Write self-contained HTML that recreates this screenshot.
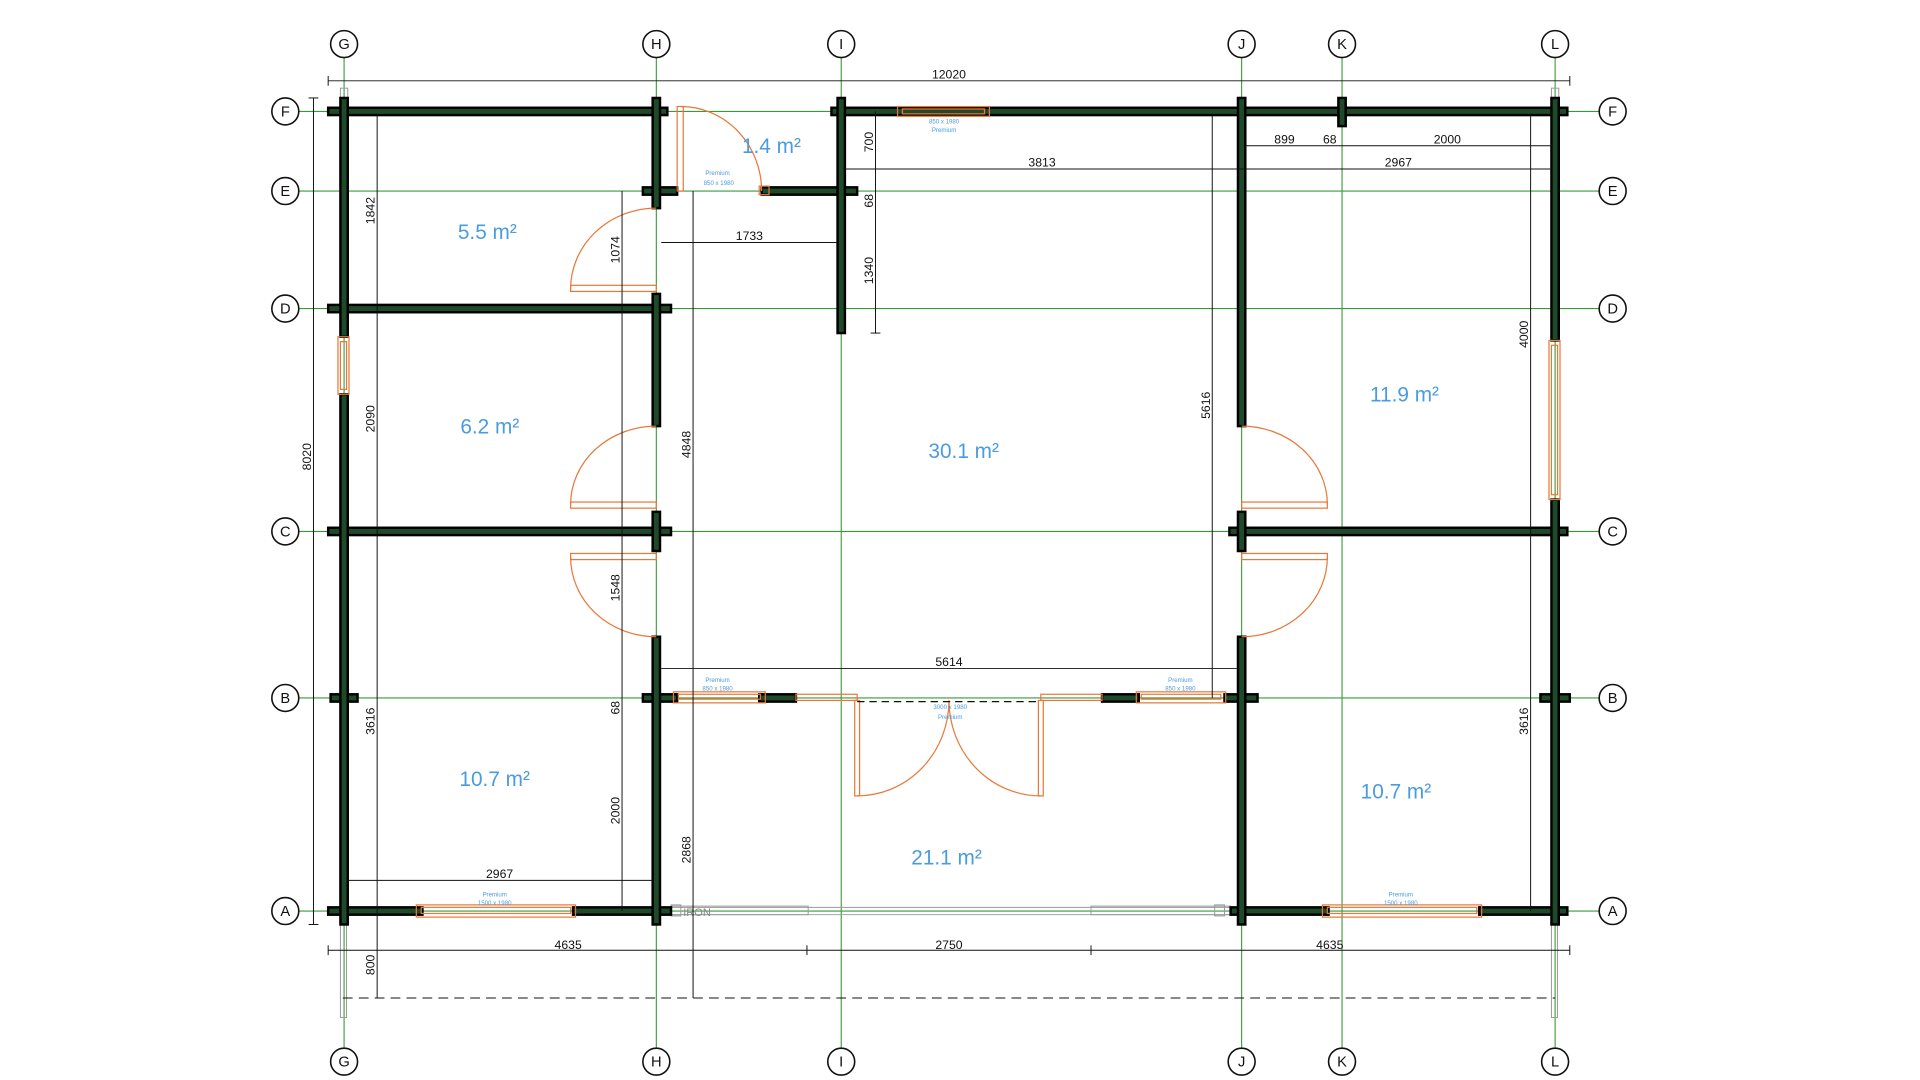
<!DOCTYPE html>
<html><head><meta charset="utf-8"><style>
html,body{margin:0;padding:0;background:#fff;width:1920px;height:1080px;overflow:hidden}
svg{display:block}
text{font-family:"Liberation Sans",sans-serif}
.d{font-size:10px;fill:#111}
.a{font-size:17px;fill:#4a9be0}
.s{font-size:5px;fill:#4a9be0}
.c{font-size:12px;fill:#111;text-anchor:middle}
</style></head><body>
<svg width="1920" height="1080" viewBox="0 0 1568 882" xmlns="http://www.w3.org/2000/svg">
<!-- grid lines -->
<g stroke="#3a9a3a" stroke-width="0.9">
<line x1="281" y1="47" x2="281" y2="856"/><line x1="536" y1="47" x2="536" y2="856"/><line x1="687" y1="47" x2="687" y2="856"/>
<line x1="1014" y1="47" x2="1014" y2="856"/><line x1="1096" y1="47" x2="1096" y2="856"/><line x1="1270" y1="47" x2="1270" y2="856"/>
<line x1="244" y1="91" x2="1306" y2="91"/><line x1="244" y1="156" x2="1306" y2="156"/><line x1="244" y1="252" x2="1306" y2="252"/>
<line x1="244" y1="434" x2="1306" y2="434"/><line x1="244" y1="570" x2="1306" y2="570"/><line x1="244" y1="744" x2="1306" y2="744"/>
</g>
<!-- grid circles -->
<g fill="#fff" stroke="#111" stroke-width="1.3">
<circle cx="281" cy="36" r="11"/><circle cx="536" cy="36" r="11"/><circle cx="687" cy="36" r="11"/><circle cx="1014" cy="36" r="11"/><circle cx="1096" cy="36" r="11"/><circle cx="1270" cy="36" r="11"/>
<circle cx="281" cy="867" r="11"/><circle cx="536" cy="867" r="11"/><circle cx="687" cy="867" r="11"/><circle cx="1014" cy="867" r="11"/><circle cx="1096" cy="867" r="11"/><circle cx="1270" cy="867" r="11"/>
<circle cx="233" cy="91" r="11"/><circle cx="233" cy="156" r="11"/><circle cx="233" cy="252" r="11"/><circle cx="233" cy="434" r="11"/><circle cx="233" cy="570" r="11"/><circle cx="233" cy="744" r="11"/>
<circle cx="1317" cy="91" r="11"/><circle cx="1317" cy="156" r="11"/><circle cx="1317" cy="252" r="11"/><circle cx="1317" cy="434" r="11"/><circle cx="1317" cy="570" r="11"/><circle cx="1317" cy="744" r="11"/>
</g>
<g class="c">
<text x="281" y="40">G</text><text x="536" y="40">H</text><text x="687" y="40">I</text><text x="1014" y="40">J</text><text x="1096" y="40">K</text><text x="1270" y="40">L</text>
<text x="281" y="871">G</text><text x="536" y="871">H</text><text x="687" y="871">I</text><text x="1014" y="871">J</text><text x="1096" y="871">K</text><text x="1270" y="871">L</text>
<text x="233" y="95">F</text><text x="233" y="160">E</text><text x="233" y="256">D</text><text x="233" y="438">C</text><text x="233" y="574">B</text><text x="233" y="748">A</text>
<text x="1317" y="95">F</text><text x="1317" y="160">E</text><text x="1317" y="256">D</text><text x="1317" y="438">C</text><text x="1317" y="574">B</text><text x="1317" y="748">A</text>
</g>
<!-- light posts -->
<g fill="none" stroke="#999" stroke-width="0.8">
<rect x="278" y="72" width="6" height="10"/><rect x="1267" y="72" width="6" height="10"/>
<rect x="278" y="755" width="5" height="76"/><rect x="1267" y="755" width="5" height="76"/>
<line x1="548" y1="741" x2="1005" y2="741"/><line x1="548" y1="747" x2="1005" y2="747"/>
<rect x="548" y="740" width="112" height="7"/><rect x="891" y="740" width="114" height="7"/>
<rect x="548" y="739" width="8" height="9"/><rect x="992" y="739" width="8" height="9"/>
</g>
<text x="558" y="748" font-size="9" fill="#888">IRON</text>
<!-- walls -->
<g fill="#1e4a2a" stroke="#000" stroke-width="2">
<rect x="268" y="88" width="277" height="6"/><rect x="679" y="88" width="601" height="6"/>
<rect x="525" y="153" width="28" height="6"/><rect x="622" y="153" width="78" height="6"/>
<rect x="268" y="249" width="280" height="6"/>
<rect x="268" y="431" width="280" height="6"/><rect x="1004" y="431" width="276" height="6"/>
<rect x="270" y="567" width="22" height="6"/><rect x="525" y="567" width="28" height="6"/><rect x="620" y="567" width="30" height="6"/><rect x="900" y="567" width="30" height="6"/><rect x="1000" y="567" width="27" height="6"/><rect x="1258" y="567" width="24" height="6"/>
<rect x="268" y="741" width="77" height="6"/><rect x="468" y="741" width="80" height="6"/><rect x="1005" y="741" width="80" height="6"/><rect x="1208" y="741" width="72" height="6"/>
<rect x="278" y="80" width="6" height="195"/><rect x="278" y="322" width="6" height="433"/>
<rect x="533" y="80" width="6" height="90"/><rect x="533" y="240" width="6" height="108"/><rect x="533" y="418" width="6" height="32"/><rect x="533" y="520" width="6" height="235"/>
<rect x="684" y="80" width="6" height="192"/>
<rect x="1011" y="80" width="6" height="268"/><rect x="1011" y="418" width="6" height="32"/><rect x="1011" y="520" width="6" height="235"/>
<rect x="1093" y="80" width="6" height="23"/>
<rect x="1267" y="80" width="6" height="198"/><rect x="1267" y="408" width="6" height="347"/>
</g>
<!-- doors/windows -->
<g fill="none" stroke="#e8783a" stroke-width="1">
<rect x="553" y="87" width="5" height="69"/><path d="M556 87 A66 69 0 0 1 622 156"/><rect x="620" y="152" width="8" height="7"/>
<rect x="466" y="233" width="70" height="5"/><path d="M536 170 A70 66 0 0 0 466 236"/>
<rect x="466" y="410" width="70" height="5"/><path d="M536 348 A70 64 0 0 0 466 412"/>
<rect x="466" y="452" width="70" height="5"/><path d="M466 455 A70 65 0 0 0 536 520"/>
<rect x="1014" y="410" width="70" height="5"/><path d="M1014 348 A70 64 0 0 1 1084 412"/>
<rect x="1014" y="452" width="70" height="5"/><path d="M1084 455 A70 65 0 0 1 1014 520"/>
<rect x="698" y="572" width="4" height="78"/><path d="M700 650 A75 78 0 0 0 775 572"/>
<rect x="848" y="572" width="4" height="78"/><path d="M850 650 A75 78 0 0 1 775 572"/>
<rect x="650" y="567" width="50" height="5"/><rect x="850" y="567" width="50" height="5"/>
<rect x="733" y="87" width="75" height="8"/><rect x="737" y="89" width="67" height="4"/>
<rect x="276" y="275" width="9" height="47"/><rect x="278" y="279" width="5" height="39"/>
<rect x="1265" y="278" width="9" height="130"/><rect x="1267" y="282" width="5" height="122"/>
<rect x="340" y="739" width="130" height="10"/><rect x="344" y="741" width="122" height="5"/>
<rect x="1080" y="739" width="130" height="10"/><rect x="1084" y="741" width="122" height="5"/>
<rect x="550" y="565" width="75" height="9"/><rect x="554" y="567" width="67" height="4"/>
<rect x="928" y="565" width="73" height="9"/><rect x="932" y="567" width="65" height="4"/>
</g>
<line x1="700" y1="573" x2="850" y2="573" stroke="#111" stroke-width="1" stroke-dasharray="6,4"/>
<!-- dimensions -->
<g stroke="#111" stroke-width="0.8" fill="none">
<line x1="268" y1="66" x2="1282" y2="66"/><line x1="268" y1="62" x2="268" y2="70"/><line x1="1282" y1="62" x2="1282" y2="70"/>
<line x1="268" y1="776" x2="1282" y2="776"/><line x1="268" y1="772" x2="268" y2="780"/><line x1="659" y1="772" x2="659" y2="780"/><line x1="891" y1="772" x2="891" y2="780"/><line x1="1282" y1="772" x2="1282" y2="780"/>
<line x1="280" y1="815" x2="1270" y2="815" stroke-dasharray="8,5"/>
<line x1="256" y1="80" x2="256" y2="755"/><line x1="252" y1="80" x2="260" y2="80"/><line x1="252" y1="755" x2="260" y2="755"/>
<line x1="308" y1="94" x2="308" y2="815"/>
<line x1="566" y1="156" x2="566" y2="815"/>
<line x1="508" y1="156" x2="508" y2="744"/>
<line x1="715" y1="91" x2="715" y2="272"/><line x1="711" y1="272" x2="719" y2="272"/>
<line x1="540" y1="198" x2="684" y2="198"/>
<line x1="690" y1="138" x2="1268" y2="138"/>
<line x1="1016" y1="119" x2="1268" y2="119"/>
<line x1="990" y1="94" x2="990" y2="570"/>
<line x1="540" y1="546" x2="1010" y2="546"/>
<line x1="1250" y1="94" x2="1250" y2="744"/>
<line x1="283" y1="719" x2="532" y2="719"/>
</g>
<g class="d">
<text x="775" y="64" text-anchor="middle">12020</text>
<text x="464" y="775" text-anchor="middle">4635</text><text x="775" y="775" text-anchor="middle">2750</text><text x="1086" y="775" text-anchor="middle">4635</text>
<text x="612" y="196" text-anchor="middle">1733</text><text x="851" y="136" text-anchor="middle">3813</text>
<text x="1049" y="117" text-anchor="middle">899</text><text x="1086" y="117" text-anchor="middle">68</text><text x="1182" y="117" text-anchor="middle">2000</text><text x="1142" y="136" text-anchor="middle">2967</text>
<text x="775" y="544" text-anchor="middle">5614</text><text x="408" y="717" text-anchor="middle">2967</text>
<text transform="translate(254,373) rotate(-90)" text-anchor="middle">8020</text>
<text transform="translate(306,172) rotate(-90)" text-anchor="middle">1842</text>
<text transform="translate(306,342) rotate(-90)" text-anchor="middle">2090</text>
<text transform="translate(306,589) rotate(-90)" text-anchor="middle">3616</text>
<text transform="translate(306,788) rotate(-90)" text-anchor="middle">800</text>
<text transform="translate(564,363) rotate(-90)" text-anchor="middle">4848</text>
<text transform="translate(564,694) rotate(-90)" text-anchor="middle">2868</text>
<text transform="translate(506,204) rotate(-90)" text-anchor="middle">1074</text>
<text transform="translate(506,480) rotate(-90)" text-anchor="middle">1548</text>
<text transform="translate(506,578) rotate(-90)" text-anchor="middle">68</text>
<text transform="translate(506,662) rotate(-90)" text-anchor="middle">2000</text>
<text transform="translate(713,116) rotate(-90)" text-anchor="middle">700</text>
<text transform="translate(713,164) rotate(-90)" text-anchor="middle">68</text>
<text transform="translate(713,221) rotate(-90)" text-anchor="middle">1340</text>
<text transform="translate(988,331) rotate(-90)" text-anchor="middle">5616</text>
<text transform="translate(1248,273) rotate(-90)" text-anchor="middle">4000</text>
<text transform="translate(1248,589) rotate(-90)" text-anchor="middle">3616</text>
</g>
<!-- areas -->
<g class="a" text-anchor="middle">
<text x="630" y="125">1.4 m²</text><text x="398" y="195">5.5 m²</text><text x="400" y="354">6.2 m²</text>
<text x="787" y="374">30.1 m²</text><text x="1147" y="328">11.9 m²</text><text x="404" y="642">10.7 m²</text>
<text x="1140" y="652">10.7 m²</text><text x="773" y="706">21.1 m²</text>
</g>
<g class="s" text-anchor="middle">
<text x="586" y="143">Premium</text><text x="587" y="151">850 x 1980</text>
<text x="771" y="101">850 x 1980</text><text x="771" y="108">Premium</text>
<text x="586" y="557">Premium</text><text x="586" y="564">850 x 1980</text>
<text x="964" y="557">Premium</text><text x="964" y="564">850 x 1980</text>
<text x="776" y="579">3000 x 1980</text><text x="776" y="587">Premium</text>
<text x="404" y="732">Premium</text><text x="404" y="739">1500 x 1980</text>
<text x="1144" y="732">Premium</text><text x="1144" y="739">1500 x 1980</text>
</g>
</svg>
</body></html>
